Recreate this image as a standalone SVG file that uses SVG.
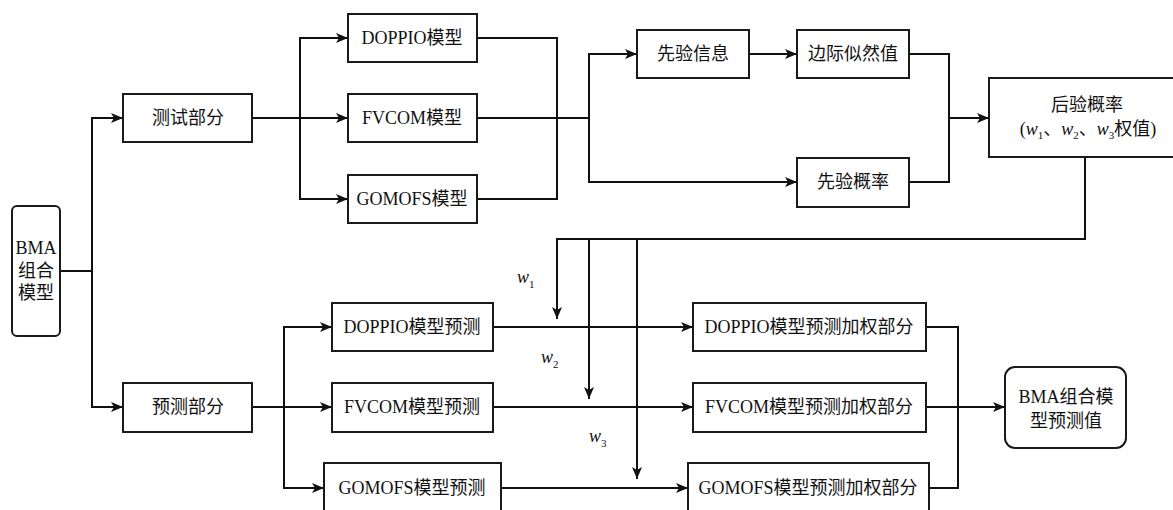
<svg xmlns="http://www.w3.org/2000/svg" width="1173" height="510" viewBox="0 0 1173 510">
<style>
.box{fill:#fff;stroke:#1a1a1a;stroke-width:2}
.t{font-family:"Liberation Serif","Noto Sans CJK SC",serif;font-size:18px;fill:#111;text-anchor:middle}
.w{font-family:"Liberation Serif",serif;font-size:18px;fill:#111;font-style:italic}
.sub{font-family:"Liberation Serif",serif;font-size:11px;fill:#111;font-style:normal}
.c{fill:none;stroke:#111;stroke-width:2}
</style>
<defs>
<marker id="ah" markerUnits="userSpaceOnUse" markerWidth="14" markerHeight="12" refX="12" refY="5" orient="auto">
<path d="M0,0 L12,5 L0,10 L3,5 Z" fill="#111"/>
</marker>
</defs>
<g id="connectors">
<path class="c" d="M60,271 H92"/>
<path class="c" d="M92,271 V118 H123" marker-end="url(#ah)"/>
<path class="c" d="M92,271 V407 H123" marker-end="url(#ah)"/>
<path class="c" d="M252,118 H348" marker-end="url(#ah)"/>
<path class="c" d="M300,118 V38 H348" marker-end="url(#ah)"/>
<path class="c" d="M300,118 V199 H348" marker-end="url(#ah)"/>
<path class="c" d="M477,38 H557 V199 H477"/>
<path class="c" d="M477,118 H589"/>
<path class="c" d="M589,118 V54 H637" marker-end="url(#ah)"/>
<path class="c" d="M589,118 V182 H797" marker-end="url(#ah)"/>
<path class="c" d="M749,54 H797" marker-end="url(#ah)"/>
<path class="c" d="M909,54 H949 V182 H909"/>
<path class="c" d="M949,118 H989" marker-end="url(#ah)"/>
<path class="c" d="M1085,157 V239 H557 V319" marker-end="url(#ah)"/>
<path class="c" d="M589,239 V399" marker-end="url(#ah)"/>
<path class="c" d="M637,239 V479" marker-end="url(#ah)"/>
<path class="c" d="M252,407 H332" marker-end="url(#ah)"/>
<path class="c" d="M284,407 V327 H332" marker-end="url(#ah)"/>
<path class="c" d="M284,407 V488 H324" marker-end="url(#ah)"/>
<path class="c" d="M493,327 H693" marker-end="url(#ah)"/>
<path class="c" d="M493,407 H693" marker-end="url(#ah)"/>
<path class="c" d="M501,488 H688" marker-end="url(#ah)"/>
<path class="c" d="M926,327 H958 V488 H929"/>
<path class="c" d="M926,407 H1005" marker-end="url(#ah)"/>
</g>
<g id="wlabels">
<text class="w" x="517" y="283">w<tspan class="sub" dy="5">1</tspan></text>
<text class="w" x="541" y="363">w<tspan class="sub" dy="5">2</tspan></text>
<text class="w" x="589" y="442">w<tspan class="sub" dy="5">3</tspan></text>
</g>
<g id="n-bma">
<rect class="box" x="12" y="206" width="48" height="130" rx="5"/>
<text class="t" x="36" y="254">BMA</text>
<text class="t" x="36" y="277">组合</text>
<text class="t" x="36" y="299">模型</text>
</g>
<g id="n-test">
<rect class="box" x="123" y="94" width="129" height="48"/>
<text class="t" x="188" y="124">测试部分</text>
</g>
<g id="n-pred">
<rect class="box" x="123" y="383" width="129" height="49"/>
<text class="t" x="188" y="413">预测部分</text>
</g>
<g id="n-doppio">
<rect class="box" x="348" y="14" width="129" height="48"/>
<text class="t" x="412" y="44">DOPPIO模型</text>
</g>
<g id="n-fvcom">
<rect class="box" x="348" y="94" width="129" height="48"/>
<text class="t" x="412" y="124">FVCOM模型</text>
</g>
<g id="n-gomofs">
<rect class="box" x="348" y="175" width="129" height="48"/>
<text class="t" x="412" y="205">GOMOFS模型</text>
</g>
<g id="n-priorinfo">
<rect class="box" x="637" y="30" width="112" height="48"/>
<text class="t" x="693" y="60">先验信息</text>
</g>
<g id="n-marginal">
<rect class="box" x="797" y="30" width="112" height="48"/>
<text class="t" x="853" y="60">边际似然值</text>
</g>
<g id="n-priorprob">
<rect class="box" x="797" y="158" width="112" height="49"/>
<text class="t" x="853" y="188">先验概率</text>
</g>
<g id="n-posterior">
<rect class="box" x="989" y="78" width="190" height="79"/>
<text class="t" x="1087" y="111">后验概率</text>
<text class="t" x="1088" y="135">(<tspan font-style="italic">w</tspan><tspan font-size="11" dy="4">1</tspan><tspan dy="-4">、</tspan><tspan font-style="italic">w</tspan><tspan font-size="11" dy="4">2</tspan><tspan dy="-4">、</tspan><tspan font-style="italic">w</tspan><tspan font-size="11" dy="4">3</tspan><tspan dy="-4">权值)</tspan></text>
</g>
<g id="n-p1">
<rect class="box" x="332" y="303" width="161" height="48"/>
<text class="t" x="412" y="333">DOPPIO模型预测</text>
</g>
<g id="n-p2">
<rect class="box" x="332" y="383" width="161" height="49"/>
<text class="t" x="412" y="413">FVCOM模型预测</text>
</g>
<g id="n-p3">
<rect class="box" x="324" y="463" width="177" height="56"/>
<text class="t" x="412" y="494">GOMOFS模型预测</text>
</g>
<g id="n-w1">
<rect class="box" x="693" y="303" width="233" height="48"/>
<text class="t" x="809" y="333">DOPPIO模型预测加权部分</text>
</g>
<g id="n-w2">
<rect class="box" x="693" y="383" width="233" height="49"/>
<text class="t" x="809" y="413">FVCOM模型预测加权部分</text>
</g>
<g id="n-w3">
<rect class="box" x="688" y="463" width="241" height="56"/>
<text class="t" x="808" y="494">GOMOFS模型预测加权部分</text>
</g>
<g id="n-final">
<rect class="box" x="1005" y="367" width="121" height="81" rx="10"/>
<text class="t" x="1066" y="403">BMA组合模</text>
<text class="t" x="1066" y="427">型预测值</text>
</g>
</svg>
